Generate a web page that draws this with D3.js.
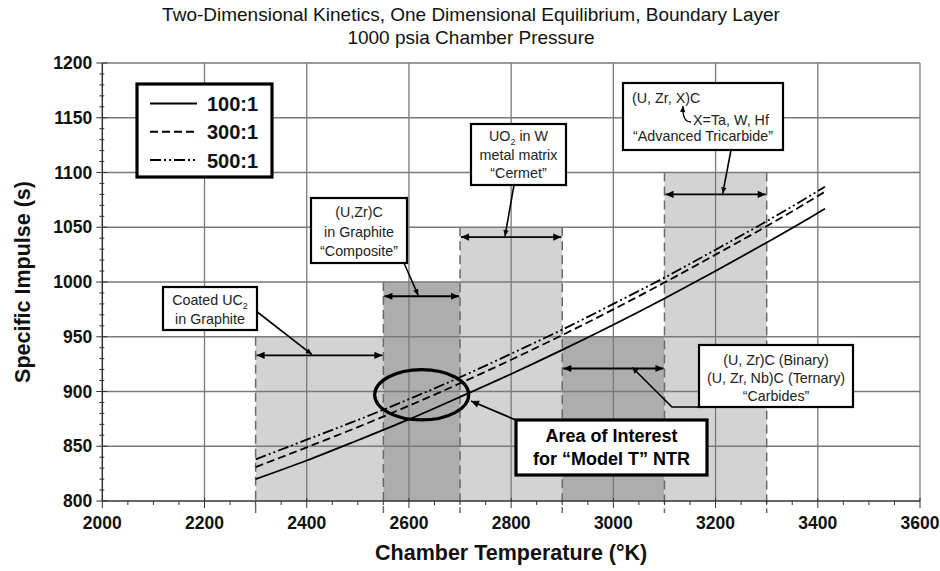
<!DOCTYPE html>
<html><head><meta charset="utf-8">
<script src="https://cdn.jsdelivr.net/npm/d3@7"></script>
<style>body{margin:0;background:#fff;} svg{display:block;font-family:"Liberation Sans",Arial,Helvetica,sans-serif;}</style>
</head><body><svg id="chart" width="940" height="571"></svg>
<script>
// ---- data ----
const temps   = [2300,2400,2500,2600,2700,2800,2900,3000,3100,3200,3300,3400,3414];
const isp100  = [820,837,855.5,874.5,895,916,938,961,985,1010,1036,1063,1067];
const isp300  = [831,849,867.5,887,907.5,929,951.5,975,999.5,1025,1051,1078.5,1082.5];
const isp500  = [838,856,874,893,913,934.5,956.5,980,1004,1029.5,1055.5,1083,1087];
const seriesNames = ["100:1","300:1","500:1"];

const regionNames    = ["Coated UC2","Composite","Cermet","Carbides","Advanced Tricarbide"];
const regionStart    = [2300,2550,2700,2900,3100];
const regionEnd      = [2550,2700,2900,3100,3300];
const regionTop      = [950,1000,1050,950,1100];
const regionArrowIsp = [933,987,1041,921,1080];
const leaderTemp     = [2410,2618,2788,3037,3214];

const xTicks = d3.range(2000,3601,200);
const xMinor = d3.range(2000,3601,50);
const yTicks = d3.range(800,1201,50);
const yMinor = d3.range(800,1201,10);
const interestCenter = [2625,897];
const interestRadius = [92,23];

const titleLines = ["Two-Dimensional Kinetics, One Dimensional Equilibrium, Boundary Layer","1000 psia Chamber Pressure"];

// ---- setup ----
const svg = d3.select("#chart");
const x = d3.scaleLinear().domain([2000,3600]).range([102.3,920]);
const y = d3.scaleLinear().domain([800,1200]).range([501,63]);
const dashes = [null,"8,4","11,3,2,3,2,3"];
const seriesVals = [isp100,isp300,isp500];

const defs = svg.append("defs");
defs.append("marker").attr("id","ah").attr("viewBox","0 0 10 10").attr("refX",10).attr("refY",5)
  .attr("markerWidth",11).attr("markerHeight",8).attr("markerUnits","userSpaceOnUse")
  .attr("orient","auto-start-reverse")
  .append("path").attr("d","M0,0.5 L10,5 L0,9.5 Z").attr("fill","#000");
defs.append("marker").attr("id","ahs").attr("viewBox","0 0 10 10").attr("refX",10).attr("refY",5)
  .attr("markerWidth",7).attr("markerHeight",6).attr("markerUnits","userSpaceOnUse")
  .attr("orient","auto-start-reverse")
  .append("path").attr("d","M0,0.5 L10,5 L0,9.5 Z").attr("fill","#000");

// regions
const reg = regionNames.map((n,i)=>({n,s:regionStart[i],e:regionEnd[i],t:regionTop[i],a:regionArrowIsp[i],lt:leaderTemp[i],i}));
svg.append("g").selectAll("rect").data(reg).join("rect")
  .attr("x",d=>x(d.s)).attr("width",d=>x(d.e)-x(d.s))
  .attr("y",d=>y(d.t)).attr("height",d=>y(800)-y(d.t))
  .attr("fill",d=>d.i%2? "#adadad":"#d3d3d3");

// grid
const grid = svg.append("g").attr("stroke","#7a7a7a").attr("stroke-width",1.3);
xTicks.slice(1).forEach(v=>grid.append("line").attr("x1",x(v)).attr("x2",x(v)).attr("y1",y(800)).attr("y2",y(1200)));
yTicks.slice(1).forEach(v=>grid.append("line").attr("x1",x(2000)).attr("x2",x(3600)).attr("y1",y(v)).attr("y2",y(v)));

// region dashed boundaries
const bounds = [];
reg.forEach((d,i)=>{
  const prevTop = i>0 && regionEnd[i-1]===d.s ? regionTop[i-1] : 800;
  bounds.push({v:d.s, top:Math.max(d.t,prevTop)});
  if(!(i<reg.length-1 && regionStart[i+1]===d.e)) bounds.push({v:d.e, top:d.t});
});
svg.append("g").selectAll("line").data(bounds).join("line")
  .attr("x1",d=>x(d.v)).attr("x2",d=>x(d.v)).attr("y1",d=>y(d.top)).attr("y2",y(800)+12)
  .attr("stroke","#6a6a6a").attr("stroke-width",1.5).attr("stroke-dasharray","9,5");

// axes
const ax = svg.append("g").attr("stroke","#333");
ax.append("line").attr("x1",x(2000)).attr("x2",x(3600)).attr("y1",y(800)).attr("y2",y(800)).attr("stroke-width",1.5);
ax.append("line").attr("x1",x(2000)).attr("x2",x(2000)).attr("y1",y(800)).attr("y2",y(1200)).attr("stroke-width",1.5);
xMinor.forEach(v=>{const maj=v%200===0; ax.append("line").attr("x1",x(v)).attr("x2",x(v)).attr("y1",y(800)-(maj?3:0)).attr("y2",y(800)+(maj?7:4)).attr("stroke-width",1);});
yMinor.forEach(v=>{const maj=v%50===0; ax.append("line").attr("x1",x(2000)-(maj?6:3)).attr("x2",x(2000)+(maj?5:2)).attr("y1",y(v)).attr("y2",y(v)).attr("stroke-width",1);});

svg.append("g").selectAll("text").data(xTicks).join("text")
  .attr("x",d=>x(d)).attr("y",y(800)+28).attr("text-anchor","middle")
  .attr("font-size",17.5).attr("font-weight","bold").attr("fill","#111").text(d=>d);
svg.append("g").selectAll("text").data(yTicks).join("text")
  .attr("x",x(2000)-10).attr("y",d=>y(d)+6).attr("text-anchor","end")
  .attr("font-size",17.5).attr("font-weight","bold").attr("fill","#111").text(d=>d);

// titles
svg.append("g").selectAll("text").data(titleLines).join("text")
  .attr("x",471).attr("y",(d,i)=>21+i*23).attr("text-anchor","middle")
  .attr("font-size",19).attr("fill","#111").text(d=>d);
svg.append("text").attr("x",(x(2000)+x(3600))/2).attr("y",560).attr("text-anchor","middle")
  .attr("font-size",21.5).attr("font-weight","bold").attr("fill","#111").text("Chamber Temperature (°K)");
svg.append("text").attr("transform",`translate(30,${(y(800)+y(1200))/2}) rotate(-90)`).attr("text-anchor","middle")
  .attr("font-size",21.5).attr("font-weight","bold").attr("fill","#111").text("Specific Impulse (s)");

// series
const line = d3.line().x(d=>x(d[0])).y(d=>y(d[1])).curve(d3.curveMonotoneX);
seriesVals.forEach((vals,k)=>{
  svg.append("path").datum(temps.map((t,i)=>[t,vals[i]])).attr("d",line)
    .attr("fill","none").attr("stroke","#000").attr("stroke-width",1.8)
    .attr("stroke-dasharray",dashes[k]);
});

// double arrows
svg.append("g").selectAll("line").data(reg).join("line")
  .attr("x1",d=>x(d.s)+1).attr("x2",d=>x(d.e)-1).attr("y1",d=>y(d.a)).attr("y2",d=>y(d.a))
  .attr("stroke","#000").attr("stroke-width",1.8)
  .attr("marker-start","url(#ah)").attr("marker-end","url(#ah)");

// annotation boxes (layout in px)
const boxes = [
  {x:163,y:287,w:94,h:43,lines:[[["Coated UC"],["2",1]],[["in Graphite"]]],ly0:305,lh:19,leader:[[256,311]]},
  {x:311,y:198,w:96,h:65,lines:[[["(U,Zr)C"]],[["in Graphite"]],[["“Composite”"]]],ly0:217,lh:19.5,leader:[[404,263]]},
  {x:471,y:124,w:95,h:61,lines:[[["UO"],["2",1],[" in W"]],[["metal matrix"]],[["“Cermet”"]]],ly0:141,lh:18.7,leader:[[514,185]]},
  {x:699,y:345,w:154,h:62,lines:[[["(U, Zr)C (Binary)"]],[["(U, Zr, Nb)C (Ternary)"]],[["“Carbides”"]]],ly0:365,lh:18,leader:[[699,407],[672,407]]},
  {x:623,y:83,w:160,h:67,lines:[],ly0:0,lh:0,leader:[[731,150]]}
];
const ag = svg.append("g");
boxes.forEach((b,i)=>{
  const d = reg[i];
  const pts = b.leader.concat([[x(d.lt),y(d.a)-1]]);
  ag.append("path").attr("d",d3.line()(pts)).attr("fill","none").attr("stroke","#000").attr("stroke-width",1.6)
    .attr("marker-end","url(#ahs)");
  ag.append("rect").attr("x",b.x).attr("y",b.y).attr("width",b.w).attr("height",b.h)
    .attr("fill","#fff").attr("stroke","#000").attr("stroke-width",2.2);
  b.lines.forEach((ln,j)=>{
    const t = ag.append("text").attr("x",b.x+b.w/2).attr("y",b.ly0+j*b.lh).attr("text-anchor","middle")
      .attr("font-size",14.3).attr("fill","#222");
    ln.forEach(seg=>{
      const ts = t.append("tspan").text(seg[0]);
      if(seg[1]){ ts.attr("font-size",9).attr("dy",4); }
      else if(t.selectAll("tspan").size()>1){ ts.attr("dy",-4); }
    });
  });
});
// tricarbide text
ag.append("text").attr("x",632).attr("y",103).attr("font-size",14.3).attr("fill","#222").text("(U, Zr, X)C");
ag.append("text").attr("x",693).attr("y",125).attr("font-size",14.3).attr("fill","#222").text("X=Ta, W, Hf");
ag.append("text").attr("x",703).attr("y",141).attr("text-anchor","middle").attr("font-size",14.3).attr("fill","#222").text("“Advanced Tricarbide”");
ag.append("path").attr("d","M691,122 Q682,122 683,106").attr("fill","none").attr("stroke","#000").attr("stroke-width",1.3)
  .attr("marker-end","url(#ahs)");

// area of interest
svg.append("ellipse").attr("cx",x(interestCenter[0])).attr("cy",y(interestCenter[1]))
  .attr("rx",x(interestCenter[0]+interestRadius[0])-x(interestCenter[0]))
  .attr("ry",y(interestCenter[1])-y(interestCenter[1]+interestRadius[1]))
  .attr("fill","none").attr("stroke","#000").attr("stroke-width",3.2);
svg.append("line").attr("x1",518).attr("y1",421).attr("x2",471).attr("y2",401)
  .attr("stroke","#000").attr("stroke-width",1.8).attr("marker-end","url(#ah)");
svg.append("rect").attr("x",516).attr("y",420).attr("width",191).attr("height",55)
  .attr("fill","#fff").attr("stroke","#000").attr("stroke-width",3.2);
svg.append("text").attr("x",611.5).attr("y",442).attr("text-anchor","middle").attr("font-size",18).attr("font-weight","bold").text("Area of Interest");
svg.append("text").attr("x",611.5).attr("y",465).attr("text-anchor","middle").attr("font-size",18).attr("font-weight","bold").text("for “Model T” NTR");

// legend
const lg = svg.append("g");
lg.append("rect").attr("x",137).attr("y",84).attr("width",135).attr("height",93)
  .attr("fill","#fff").attr("stroke","#000").attr("stroke-width",3.2);
seriesNames.forEach((n,k)=>{
  const yy = 103.5 + k*28.3;
  lg.append("line").attr("x1",150).attr("x2",197).attr("y1",yy).attr("y2",yy)
    .attr("stroke","#000").attr("stroke-width",2).attr("stroke-dasharray",dashes[k]);
  lg.append("text").attr("x",207).attr("y",yy+7.5).attr("font-size",20).attr("font-weight","bold").attr("fill","#111").text(n);
});
</script></body></html>
